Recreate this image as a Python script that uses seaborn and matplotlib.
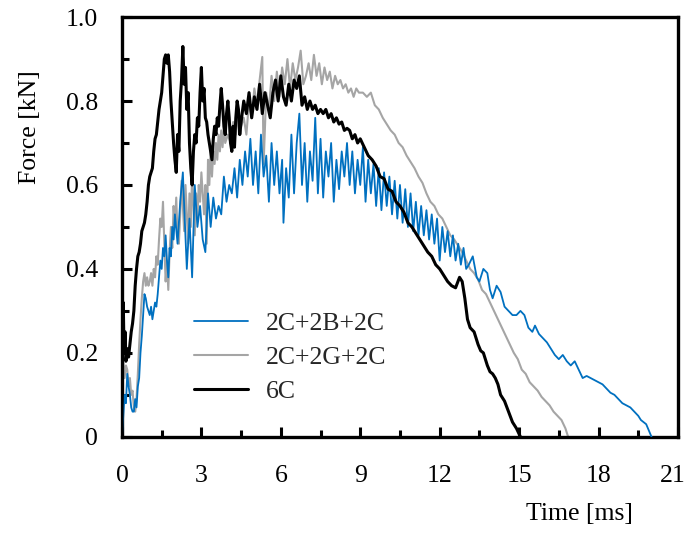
import matplotlib
matplotlib.use("Agg")
import matplotlib.pyplot as plt
import matplotlib.transforms as mtransforms
import seaborn as sns
import pandas as pd
from matplotlib.ticker import MultipleLocator, FixedLocator

sns.set_theme(style="white")
plt.rcParams['font.family'] = ['Liberation Serif', 'DejaVu Serif']

series_names = ["2C+2B+2C", "2C+2G+2C", "6C"]
series_colors = ["#0070C0", "#A5A5A5", "#000000"]

t_blue = [0.0, 0.05, 0.1, 0.15, 0.2, 0.25, 0.3, 0.35, 0.4, 0.45, 0.5, 0.55, 0.6, 0.65, 0.7, 0.75, 0.8, 0.85, 0.9, 0.95,
          1.0, 1.05, 1.1, 1.15, 1.2, 1.25, 1.3, 1.35, 1.4, 1.45, 1.5, 1.55, 1.6, 1.65, 1.7, 1.75, 1.8, 1.85, 1.9, 1.95,
          2.0, 2.1, 2.2, 2.3, 2.35, 2.45, 2.55, 2.65, 2.75, 2.85, 2.95, 3.05, 3.15, 3.25, 3.35, 3.45, 3.55, 3.65, 3.75, 3.85, 3.95,
          4.05, 4.15, 4.25, 4.35, 4.45, 4.55, 4.65, 4.75, 4.85, 4.95, 5.05, 5.15, 5.25, 5.35, 5.45, 5.55, 5.65, 5.75, 5.85, 5.95,
          6.05, 6.1, 6.2, 6.3, 6.4, 6.5, 6.6, 6.7, 6.8, 6.9, 7.0, 7.1, 7.2, 7.3, 7.4, 7.5, 7.6, 7.7, 7.8, 7.9,
          8.0, 8.1, 8.2, 8.3, 8.4, 8.5, 8.6, 8.7, 8.8, 8.9, 9.0, 9.1, 9.2, 9.3, 9.4, 9.5, 9.6, 9.7, 9.8, 9.9,
          10.0, 10.1, 10.2, 10.3, 10.4, 10.5, 10.6, 10.7, 10.8, 10.9, 11.0, 11.1, 11.2, 11.3, 11.4, 11.5, 11.6, 11.7, 11.8, 11.9,
          12.0, 12.1, 12.2, 12.3, 12.4, 12.5, 12.6, 12.7, 12.8, 12.9, 13.0, 13.1, 13.25, 13.4, 13.5, 13.65, 13.8, 13.9,
          14.0, 14.15, 14.3, 14.45, 14.6, 14.75, 14.9, 15.05, 15.2, 15.35, 15.5, 15.6, 15.75, 15.9,
          16.05, 16.2, 16.35, 16.5, 16.65, 16.8, 16.95, 17.1, 17.25, 17.4, 17.55, 17.7, 17.85,
          18.0, 18.15, 18.3, 18.45, 18.6, 18.75, 18.9, 19.05, 19.2, 19.35, 19.5, 19.6, 19.7, 19.8, 19.9, 20.0]
f_blue = [0.0, 0.05, 0.10, 0.08, 0.15, 0.12, 0.10, 0.07, 0.06, 0.06, 0.09, 0.07, 0.12, 0.14, 0.20, 0.24, 0.29, 0.34, 0.33, 0.31,
          0.30, 0.29, 0.31, 0.28, 0.30, 0.32, 0.31, 0.34, 0.38, 0.42, 0.40, 0.45, 0.43, 0.48, 0.42, 0.38, 0.45, 0.43, 0.50, 0.47,
          0.53, 0.46, 0.56, 0.63, 0.55, 0.40, 0.52, 0.38, 0.60, 0.50, 0.55, 0.47, 0.44, 0.58, 0.50, 0.57, 0.52, 0.55, 0.53, 0.62, 0.56,
          0.60, 0.58, 0.64, 0.57, 0.66, 0.60, 0.68, 0.62, 0.71, 0.60, 0.68, 0.58, 0.72, 0.62, 0.67, 0.56, 0.70, 0.60, 0.68, 0.58,
          0.66, 0.51, 0.64, 0.57, 0.72, 0.58, 0.70, 0.77, 0.60, 0.70, 0.56, 0.68, 0.61, 0.76, 0.58, 0.71, 0.57, 0.68, 0.62, 0.70,
          0.56, 0.66, 0.59, 0.68, 0.62, 0.70, 0.60, 0.68, 0.58, 0.66, 0.60, 0.69, 0.56, 0.66, 0.58, 0.65, 0.55, 0.64, 0.54, 0.63,
          0.55, 0.62, 0.53, 0.61, 0.52, 0.60, 0.51, 0.59, 0.50, 0.58, 0.49, 0.56, 0.48, 0.55, 0.48, 0.54, 0.47, 0.53, 0.46, 0.52,
          0.42, 0.50, 0.44, 0.49, 0.43, 0.48, 0.42, 0.46, 0.41, 0.45, 0.40, 0.41, 0.43, 0.38, 0.37, 0.40, 0.39, 0.35,
          0.33, 0.36, 0.345, 0.31, 0.30, 0.29, 0.29, 0.30, 0.29, 0.26, 0.25, 0.265, 0.245, 0.235,
          0.225, 0.21, 0.195, 0.185, 0.195, 0.18, 0.17, 0.18, 0.16, 0.14, 0.145, 0.14, 0.135,
          0.13, 0.125, 0.115, 0.105, 0.10, 0.09, 0.08, 0.075, 0.07, 0.06, 0.05, 0.04, 0.035, 0.03, 0.015, 0.0]

t_gray = [0.0, 0.05, 0.1, 0.15, 0.2, 0.25, 0.3, 0.35, 0.4, 0.45, 0.5, 0.55, 0.6, 0.65, 0.7, 0.75, 0.8, 0.85, 0.9, 0.95,
          1.0, 1.05, 1.1, 1.15, 1.2, 1.25, 1.3, 1.35, 1.4, 1.45, 1.5, 1.55, 1.6, 1.65, 1.7, 1.75, 1.8, 1.85, 1.9, 1.95,
          2.0, 2.05, 2.1, 2.15, 2.2, 2.25, 2.3, 2.35, 2.4, 2.45, 2.5, 2.55, 2.6, 2.65, 2.7, 2.75, 2.8, 2.85, 2.9, 2.95,
          3.0, 3.05, 3.1, 3.15, 3.2, 3.25, 3.3, 3.35, 3.4, 3.45, 3.5, 3.55, 3.6, 3.65, 3.7, 3.75, 3.8, 3.85, 3.9,
          4.0, 4.1, 4.2, 4.3, 4.4, 4.5, 4.6, 4.7, 4.8, 4.9, 5.0, 5.1, 5.2, 5.3, 5.35, 5.45, 5.55, 5.65, 5.75, 5.85, 5.95,
          6.05, 6.15, 6.25, 6.35, 6.45, 6.55, 6.65, 6.75, 6.85, 6.95, 7.05, 7.15, 7.25, 7.35, 7.45, 7.55, 7.65, 7.75, 7.85, 7.95,
          8.05, 8.15, 8.25, 8.35, 8.45, 8.55, 8.65, 8.75, 8.85, 8.95, 9.1, 9.25, 9.4, 9.55, 9.7, 9.85,
          10.0, 10.15, 10.3, 10.45, 10.6, 10.75, 10.9, 11.05, 11.2, 11.35, 11.5, 11.65, 11.8, 11.95,
          12.1, 12.25, 12.4, 12.55, 12.7, 12.85, 13.0, 13.15, 13.3, 13.45, 13.6, 13.75, 13.9,
          14.05, 14.2, 14.35, 14.5, 14.65, 14.8, 14.95, 15.1, 15.25, 15.4, 15.55, 15.7, 15.85,
          16.0, 16.15, 16.3, 16.45, 16.6, 16.75, 16.85]
f_gray = [0.12, 0.18, 0.14, 0.17, 0.16, 0.12, 0.14, 0.10, 0.11, 0.07, 0.06, 0.09, 0.15, 0.22, 0.28, 0.33, 0.37, 0.39, 0.36, 0.38,
          0.36, 0.37, 0.39, 0.36, 0.40, 0.38, 0.43, 0.41, 0.47, 0.52, 0.50, 0.56, 0.46, 0.37, 0.42, 0.35, 0.44, 0.50, 0.45, 0.55,
          0.50, 0.57, 0.48, 0.46, 0.53, 0.61, 0.55, 0.49, 0.60, 0.53, 0.46, 0.58, 0.50, 0.63, 0.55, 0.48, 0.58, 0.52, 0.60, 0.56,
          0.63, 0.58, 0.53, 0.60, 0.46, 0.66, 0.60, 0.69, 0.62, 0.68, 0.65, 0.70, 0.66, 0.72, 0.68, 0.73, 0.69, 0.74, 0.70,
          0.72, 0.70, 0.75, 0.72, 0.77, 0.74, 0.76, 0.72, 0.80, 0.76, 0.83, 0.79, 0.85, 0.905, 0.65, 0.82, 0.78, 0.86, 0.80, 0.87, 0.81,
          0.88, 0.84, 0.90, 0.83, 0.89, 0.85, 0.88, 0.92, 0.84, 0.86, 0.89, 0.85, 0.91, 0.86, 0.89, 0.84, 0.88, 0.85, 0.87, 0.83,
          0.86, 0.84, 0.85, 0.83, 0.84, 0.82, 0.83, 0.81, 0.83, 0.82, 0.82, 0.81, 0.82, 0.79, 0.78, 0.76,
          0.745, 0.73, 0.72, 0.70, 0.69, 0.67, 0.655, 0.64, 0.62, 0.605, 0.58, 0.56, 0.55, 0.53,
          0.52, 0.50, 0.48, 0.47, 0.455, 0.44, 0.42, 0.40, 0.39, 0.375, 0.35, 0.34, 0.32,
          0.30, 0.28, 0.26, 0.24, 0.22, 0.20, 0.185, 0.16, 0.15, 0.13, 0.12, 0.11, 0.095,
          0.085, 0.075, 0.06, 0.05, 0.04, 0.02, 0.0]

t_black = [0.0, 0.02, 0.05, 0.08, 0.12, 0.15, 0.2, 0.25, 0.3, 0.35, 0.4, 0.45, 0.5, 0.55, 0.6, 0.65, 0.7, 0.75, 0.8, 0.85, 0.9, 0.95,
           1.0, 1.05, 1.1, 1.15, 1.2, 1.25, 1.3, 1.35, 1.4, 1.45, 1.5, 1.55, 1.6, 1.65, 1.7, 1.75, 1.8, 1.85, 1.9, 1.95,
           2.0, 2.05, 2.1, 2.15, 2.2, 2.25, 2.3, 2.35, 2.4, 2.45, 2.5, 2.55, 2.6, 2.65, 2.7, 2.75, 2.8, 2.85, 2.9, 2.95,
           3.0, 3.05, 3.1, 3.15, 3.2, 3.25, 3.3, 3.35, 3.4, 3.45, 3.5, 3.55, 3.6, 3.65, 3.7, 3.75, 3.8, 3.85, 3.9, 3.95,
           4.0, 4.05, 4.1, 4.15, 4.2, 4.25, 4.3, 4.35, 4.4, 4.45, 4.5, 4.6, 4.7, 4.8, 4.9,
           5.0, 5.1, 5.2, 5.3, 5.4, 5.5, 5.6, 5.7, 5.8, 5.9, 6.0, 6.1, 6.2, 6.3, 6.4, 6.5, 6.6, 6.7, 6.8, 6.9,
           7.0, 7.1, 7.2, 7.3, 7.4, 7.5, 7.6, 7.7, 7.8, 7.9, 8.0, 8.1, 8.2, 8.3, 8.4, 8.5, 8.6, 8.7, 8.8, 8.9,
           9.0, 9.15, 9.3, 9.45, 9.6, 9.75, 9.9, 10.05, 10.2, 10.35, 10.5, 10.65, 10.8, 10.95,
           11.1, 11.25, 11.4, 11.55, 11.7, 11.85, 12.0, 12.15, 12.3, 12.45, 12.6, 12.75, 12.85, 12.95,
           13.05, 13.15, 13.3, 13.45, 13.55, 13.65, 13.8, 13.9, 14.0, 14.1, 14.2, 14.3, 14.45, 14.6, 14.75, 14.9, 15.05]
f_black = [0.0, 0.28, 0.32, 0.20, 0.25, 0.18, 0.21, 0.19, 0.22, 0.25, 0.27, 0.30, 0.36, 0.40, 0.43, 0.44, 0.46, 0.49, 0.50, 0.51, 0.53, 0.56,
           0.60, 0.62, 0.63, 0.64, 0.68, 0.71, 0.72, 0.75, 0.78, 0.80, 0.82, 0.86, 0.90, 0.91, 0.89, 0.91, 0.87, 0.80, 0.75, 0.70,
           0.66, 0.63, 0.72, 0.68, 0.80, 0.85, 0.93, 0.84, 0.88, 0.78, 0.82, 0.70, 0.64, 0.60, 0.68, 0.72, 0.70, 0.76, 0.74, 0.82,
           0.88, 0.80, 0.83, 0.76, 0.75, 0.72, 0.70, 0.68, 0.66, 0.71, 0.74, 0.72, 0.76, 0.74, 0.79, 0.83, 0.79, 0.74, 0.72, 0.77,
           0.80, 0.76, 0.70, 0.68, 0.74, 0.69, 0.76, 0.80, 0.78, 0.72, 0.75, 0.80, 0.77, 0.82, 0.76,
           0.81, 0.78, 0.84, 0.77, 0.82, 0.79, 0.76, 0.82, 0.85, 0.80, 0.86, 0.81, 0.79, 0.84, 0.80, 0.85, 0.83, 0.86, 0.79, 0.81,
           0.78, 0.80, 0.78, 0.79, 0.77, 0.78, 0.77, 0.78, 0.76, 0.77, 0.75, 0.76, 0.745, 0.75, 0.73, 0.735, 0.73, 0.71, 0.72, 0.70,
           0.71, 0.69, 0.67, 0.66, 0.645, 0.62, 0.615, 0.59, 0.585, 0.56, 0.55, 0.535, 0.51, 0.50,
           0.485, 0.47, 0.455, 0.44, 0.43, 0.41, 0.40, 0.385, 0.37, 0.36, 0.355, 0.38, 0.37, 0.33,
           0.28, 0.26, 0.25, 0.22, 0.205, 0.20, 0.17, 0.155, 0.15, 0.14, 0.125, 0.10, 0.085, 0.06, 0.035, 0.02, 0.0]

x_ticks = [0, 3, 6, 9, 12, 15, 18, 21]
y_ticks = [0, 0.2, 0.4, 0.6, 0.8, 1.0]
y_tick_labels = ["0", "0.2", "0.4", "0.6", "0.8", "1.0"]

fig = plt.figure(figsize=(6.89, 5.34), dpi=100)
ax = fig.add_axes([0.177, 0.182, 0.807, 0.786])

df_b = pd.DataFrame({"t": t_blue, "F": f_blue})
df_g = pd.DataFrame({"t": t_gray, "F": f_gray})
df_k = pd.DataFrame({"t": t_black, "F": f_black})

sns.lineplot(data=df_g, x="t", y="F", ax=ax, color=series_colors[1], lw=1.5,
             label=series_names[1], estimator=None, sort=False, zorder=2)
sns.lineplot(data=df_b, x="t", y="F", ax=ax, color=series_colors[0], lw=1.3,
             label=series_names[0], estimator=None, sort=False, zorder=3)
sns.lineplot(data=df_k, x="t", y="F", ax=ax, color=series_colors[2], lw=2.2,
             label=series_names[2], estimator=None, sort=False, zorder=4)

ax.set_xlim(0, 21)
ax.set_ylim(0, 1.0)
ax.xaxis.set_major_locator(FixedLocator(x_ticks))
ax.xaxis.set_minor_locator(MultipleLocator(1.5))
ax.yaxis.set_major_locator(FixedLocator(y_ticks))
ax.yaxis.set_minor_locator(MultipleLocator(0.1))
ax.set_yticklabels(y_tick_labels)
ax.set_xticklabels([str(v) for v in x_ticks])

fs = 18.5
ax.tick_params(axis="both", which="major", direction="in", length=7, width=2.2,
               labelsize=fs, color="black", labelcolor="black")
ax.tick_params(axis="both", which="minor", direction="in", length=5, width=2.2, color="black")
ax.tick_params(axis="x", which="both", bottom=True, top=False, pad=20)
ax.tick_params(axis="y", which="both", left=True, right=False, pad=17)

for sp in ax.spines.values():
    sp.set_linewidth(2.4)
    sp.set_color("black")

ax.set_xlabel("Time [ms]", fontsize=fs, color="black")
ax.set_ylabel("Force [kN]", fontsize=fs, color="black")
ax.xaxis.set_label_coords(0.822, -0.158)
ax.yaxis.set_label_coords(-0.146, 0.737)
ax.grid(False)

handles, labels = ax.get_legend_handles_labels()
order = [labels.index(n) for n in series_names]
leg = ax.legend([handles[i] for i in order], [labels[i] for i in order],
                loc="upper left", bbox_to_anchor=(0.13, 0.298), frameon=False,
                fontsize=fs, handlelength=2.1, handletextpad=0.7, labelspacing=0.44,
                borderpad=0, borderaxespad=0)

# nudge the last x tick label slightly left so it stays within the figure
fig.canvas.draw()
last_lbl = ax.xaxis.get_majorticklabels()[-1]
last_lbl.set_transform(last_lbl.get_transform() +
                       mtransforms.ScaledTranslation(-3.5 / 72, 0, fig.dpi_scale_trans))

fig.savefig("out.png", dpi=100, facecolor="white")
